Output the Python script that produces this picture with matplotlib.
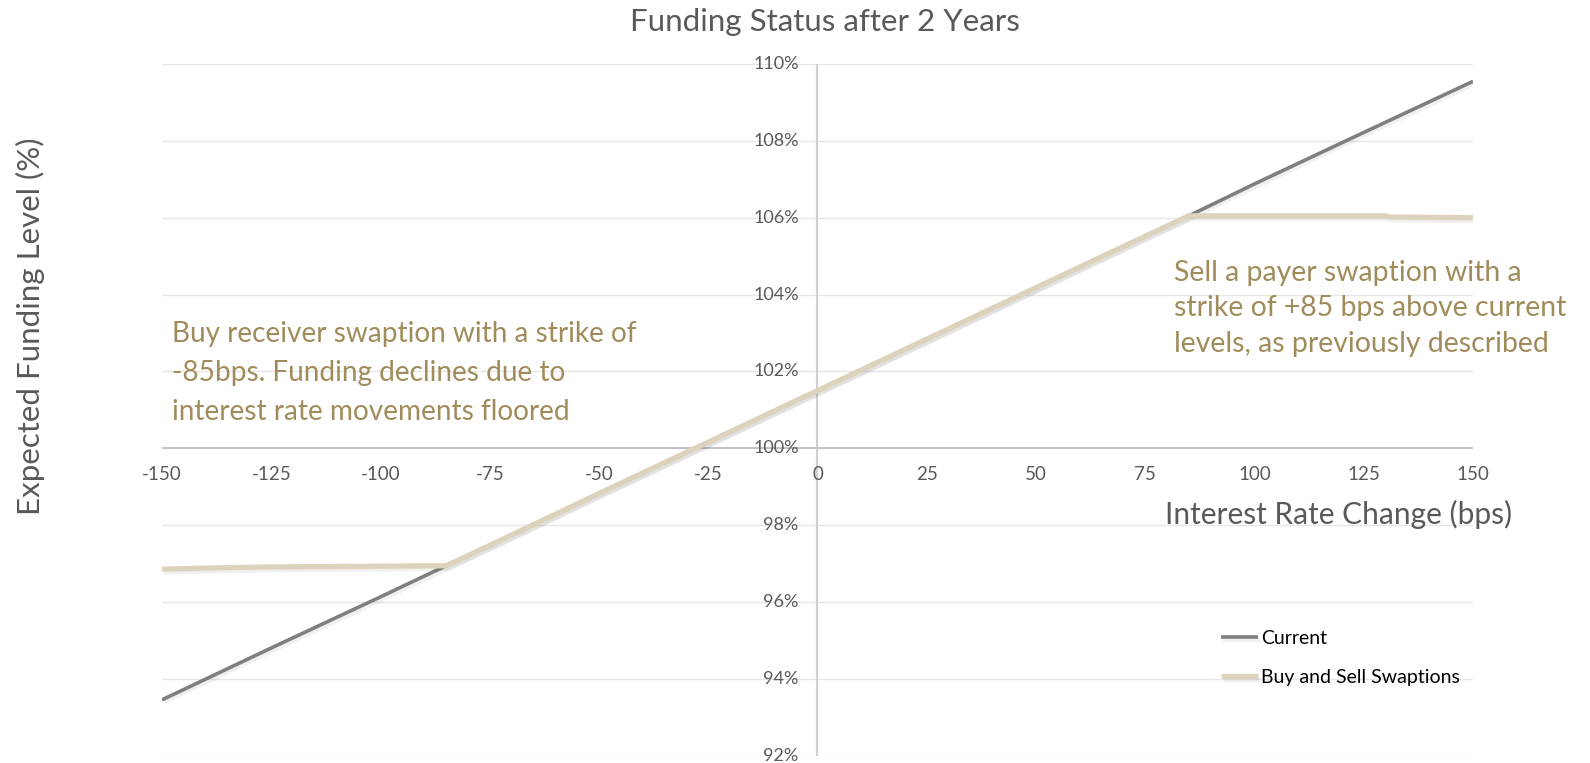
import matplotlib
matplotlib.use("Agg")
import matplotlib.pyplot as plt
import matplotlib.patheffects as pe

plt.rcParams['font.family'] = ['Lato', 'DejaVu Sans']

# Data (interest rate change in bps, expected funding level in %)
x_current = [-150, -125, -100, -85, -75, -50, -25, 0, 25, 50, 75, 85, 100, 125, 150]
y_current = [93.45, 94.80, 96.13, 96.94, 97.47, 98.82, 100.16, 101.50, 102.84, 104.18, 105.52, 106.05, 106.88, 108.22, 109.55]

x_swap = [-150, -140, -125, -85, -75, -50, -25, 0, 25, 50, 75, 85, 100, 125, 130, 131, 150]
y_swap = [96.85, 96.88, 96.91, 96.94, 97.47, 98.82, 100.16, 101.50, 102.84, 104.18, 105.52, 106.05, 106.05, 106.05, 106.05, 106.02, 106.00]

x_ticks = [-150, -125, -100, -75, -50, -25, 0, 25, 50, 75, 100, 125, 150]
y_ticks = [92, 94, 96, 98, 100, 102, 104, 106, 108, 110]

title = "Funding Status after 2 Years"
xlabel = "Interest Rate Change (bps)"
ylabel = "Expected Funding Level (%)"
note_left = "Buy receiver swaption with a strike of\n-85bps. Funding declines due to\ninterest rate movements floored"
note_right = "Sell a payer swaption with a\nstrike of +85 bps above current\nlevels, as previously described"
series_names = ["Current", "Buy and Sell Swaptions"]

fig = plt.figure(figsize=(15.9, 7.63), dpi=100)
ax = fig.add_axes([0.1019, 0.0098, 0.8245, 0.9062])
ax.set_xlim(-150, 150)
ax.set_ylim(92, 110)

txt = '#595959'
gold = '#A08C5B'

# gridlines
for yv in y_ticks:
    ax.axhline(yv, color='#E6E6E6', lw=1.0, zorder=0)

for s in ax.spines.values():
    s.set_visible(False)
ax.axvline(0, color='#D0D0D0', lw=1.5, zorder=1)
ax.axhline(100, color='#BFBFBF', lw=1.3, zorder=1)

shadow = [pe.SimpleLineShadow(offset=(1.5, -2), shadow_color='#000000', alpha=0.06), pe.Normal()]
ax.plot(x_current, y_current, color='#7F7F7F', lw=2.6, label=series_names[0], zorder=3,
        solid_capstyle='butt', path_effects=shadow)
ax.plot(x_swap, y_swap, color='#DDD3BC', lw=3.8, label=series_names[1], zorder=4,
        solid_capstyle='butt', path_effects=shadow)

ax.set_xticks([])
ax.set_yticks([])
# tick labels drawn at axis crossing
for xv in x_ticks:
    ax.annotate(str(xv), xy=(xv, 100), xytext=(0, -19), textcoords='offset points',
                ha='center', va='center', fontsize=13.5, color=txt)
for yv in y_ticks:
    ax.annotate(f"{yv}%", xy=(0, yv), xytext=(-13.5, 0), textcoords='offset points',
                ha='right', va='center', fontsize=13, color=txt)

fig.text(0.5186, 0.971, title, ha='center', va='center', fontsize=22.5, color=txt)
fig.text(0.019, 0.573, ylabel, ha='center', va='center', rotation=90, fontsize=22.5, color=txt)
fig.text(0.842, 0.326, xlabel, ha='center', va='center', fontsize=21.5, color=txt)

fig.text(0.108, 0.511, note_left, ha='left', va='center', fontsize=20.2, color=gold, linespacing=1.62)
fig.text(0.7385, 0.596, note_right, ha='left', va='center', fontsize=20.4, color=gold, linespacing=1.45)

leg = fig.legend(loc='upper left', bbox_to_anchor=(0.768, 0.174), frameon=False, fontsize=14,
                 handlelength=1.9, handletextpad=0.15, labelspacing=1.1, borderpad=0,
                 borderaxespad=0, labelcolor='#000000')

fig.savefig('out.png', dpi=100)
